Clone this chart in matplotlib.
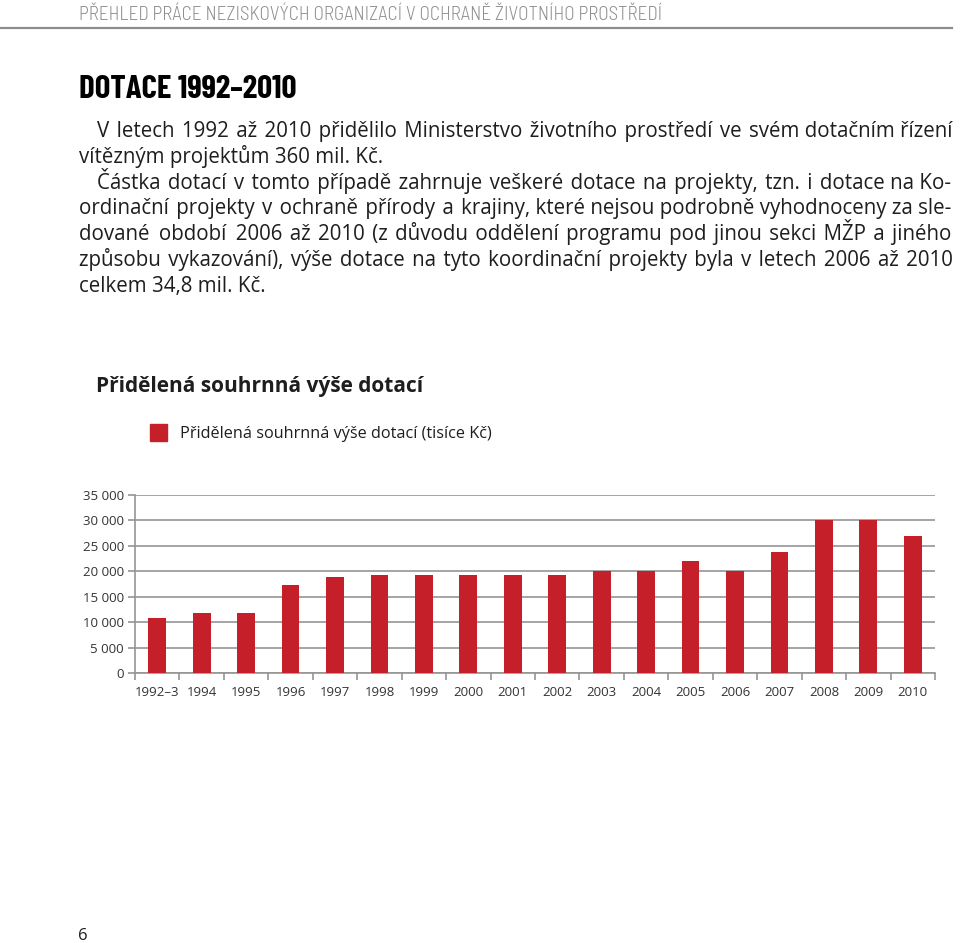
import numpy as np
import matplotlib
matplotlib.use("Agg")
import matplotlib.pyplot as plt
from matplotlib.ticker import FuncFormatter, FixedLocator

# data (thousands CZK)
years = ["1992–3", "1994", "1995", "1996", "1997", "1998", "1999", "2000", "2001",
         "2002", "2003", "2004", "2005", "2006", "2007", "2008", "2009", "2010"]
amounts = [10800, 11700, 11700, 17300, 18800, 19300, 19300, 19300, 19300,
           19300, 20000, 20000, 22000, 20000, 23700, 30000, 30000, 27000]
yticks = [0, 5000, 10000, 15000, 20000, 25000, 30000, 35000]

header = "PŘEHLED PRÁCE NEZISKOVÝCH ORGANIZACÍ V OCHRANĚ ŽIVOTNÍHO PROSTŘEDÍ"
title = "DOTACE 1992–2010"
body_lines = [
    ("V letech 1992 až 2010 přidělilo Ministerstvo životního prostředí ve svém dotačním řízení", 97, True),
    ("vítězným projektům 360 mil. Kč.", 79, False),
    ("Částka dotací v tomto případě zahrnuje veškeré dotace na projekty, tzn. i dotace na Ko-", 97, True),
    ("ordinační projekty v ochraně přírody a krajiny, které nejsou podrobně vyhodnoceny za sle-", 79, True),
    ("dované období 2006 až 2010 (z důvodu oddělení programu pod jinou sekci MŽP a jiného", 79, True),
    ("způsobu vykazování), výše dotace na tyto koordinační projekty byla v letech 2006 až 2010", 79, True),
    ("celkem 34,8 mil. Kč.", 79, False),
]
chart_title = "Přidělená souhrnná výše dotací"
legend_label = "Přidělená souhrnná výše dotací (tisíce Kč)"
page_no = "6"

W, H = 960, 943
RED = "#c5202a"
TEXT = "#1e1e1e"
BODY = ["Open Sans", "DejaVu Sans"]
HAIR = "\u200a"

plt.rcParams["font.family"] = BODY

fig = plt.figure(figsize=(W / 100, H / 100), dpi=100)
renderer = fig.canvas.get_renderer()


def fx(px):
    return px / W


def fy(py):
    return 1 - py / H


def width(t):
    return t.get_window_extent(renderer).width


def fit(t, target):
    # scale the font so the text spans the width seen in the reference
    t.set_fontsize(t.get_fontsize() * target / width(t))
    return t


# page header and rule
fit(fig.text(fx(79), fy(20), header, family="Barlow Semi Condensed", fontsize=12,
             color="#8f8f8f", va="baseline", fontweight=300), 580)
fig.add_artist(plt.Line2D([0, fx(952)], [fy(28), fy(28)], color="#8c8c8c", lw=1.6))

fit(fig.text(fx(79), fy(98), title, family="Barlow Condensed", fontsize=26,
             fontweight=700, color="black", va="baseline"), 218)

# body font size from the unjustified line width
probe = fit(fig.text(0, 0, body_lines[1][0], fontsize=14), 306)
body_size = round(probe.get_fontsize(), 1)
probe.set_text("a" + HAIR * 10 + "a")
hair_w = (width(probe) - (probe.set_text("aa") or width(probe))) / 10
probe.remove()

right_edge = 952
for i, (line, x0, just) in enumerate(body_lines):
    t = fig.text(fx(x0), fy(136.7 + 25.9 * i), line, fontsize=body_size,
                 color=TEXT, va="baseline")
    if not just:
        continue
    # justify: pad the word gaps with hair spaces
    words = line.split(" ")
    gaps = len(words) - 1
    extra = int(round((right_edge - x0 - width(t)) / hair_w))
    per, rest = divmod(max(extra, 0), gaps)
    out = words[0]
    for k, w in enumerate(words[1:]):
        out += " " + HAIR * (per + (1 if k < rest else 0)) + w
    t.set_text(out)

fit(fig.text(fx(96), fy(392), chart_title, fontsize=15, fontweight="bold",
             color=TEXT, va="baseline"), 327)

# legend
fig.add_artist(plt.Rectangle((fx(150), fy(441)), fx(17), 17 / H, color=RED,
                             transform=fig.transFigure))
fit(fig.text(fx(180), fy(438), legend_label, fontsize=11.5, color=TEXT,
             va="baseline"), 313)

fig.text(fx(78), fy(940), page_no, fontsize=12, color=TEXT, va="baseline")

# chart
ax = fig.add_axes([fx(135), fy(673), fx(935) - fx(135), (673 - 495) / H])
x = np.arange(len(years))
ax.bar(x, amounts, width=0.4, color=RED, zorder=3)
ax.set_xlim(-0.5, len(years) - 0.5)
ax.set_ylim(0, 35000)
ax.set_yticks(yticks)
ax.yaxis.set_major_formatter(FuncFormatter(lambda v, p: f"{int(v):,}".replace(",", " ")))
ax.yaxis.grid(True, color="#959595", lw=1.2, zorder=0)
ax.set_xticks(np.arange(-0.5, len(years)), minor=False)
ax.set_xticklabels([])
ax.xaxis.set_minor_locator(FixedLocator(x))
ax.set_xticklabels(years, minor=True)
ax.tick_params(axis="x", which="major", length=5, color="#959595", width=1.2, direction="out")
ax.tick_params(axis="x", which="minor", length=0, pad=9, labelsize=9.5, labelcolor="#333333")
ax.tick_params(axis="y", length=5, color="#959595", width=1.2, labelsize=9.5,
               labelcolor="#333333", pad=3)
for s in ["top", "right"]:
    ax.spines[s].set_visible(False)
for s in ["left", "bottom"]:
    ax.spines[s].set_color("#959595")
    ax.spines[s].set_linewidth(1.2)

fig.savefig("out.png", dpi=100)
